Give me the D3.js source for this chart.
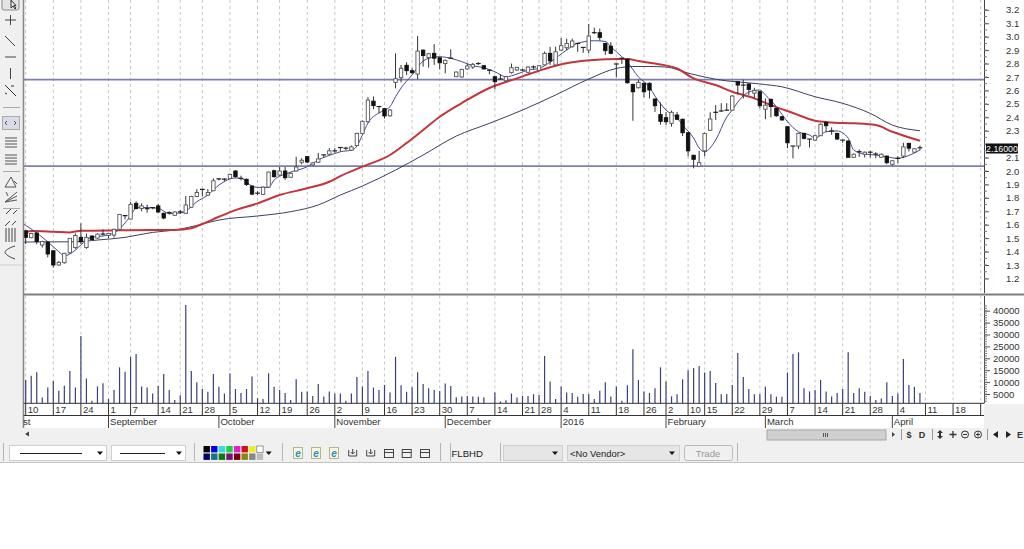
<!DOCTYPE html>
<html><head><meta charset="utf-8">
<script src="https://cdnjs.cloudflare.com/ajax/libs/d3/7.8.5/d3.min.js"></script>
<style>html,body{margin:0;padding:0;background:#fff;overflow:hidden}svg{display:block}text{font-family:"Liberation Sans",Arial,sans-serif}</style>
</head><body><svg id="c" width="1024" height="549"></svg>
<script>
const opens=[1.555,1.503,1.538,1.449,1.471,1.406,1.30,1.317,1.391,1.43,1.506,1.43,1.516,1.50,1.53,1.52,1.523,1.566,1.667,1.642,1.759,1.72,1.72,1.727,1.74,1.685,1.69,1.67,1.695,1.685,1.73,1.81,1.863,1.82,1.853,1.942,1.94,1.945,2.0,1.945,1.938,1.888,1.835,1.826,1.88,2.002,1.97,2.0,1.953,2.0,2.065,2.107,2.045,2.065,2.12,2.125,2.15,2.175,2.17,2.155,2.19,2.28,2.367,2.52,2.48,2.464,2.411,2.66,2.695,2.787,2.747,2.722,2.90,2.846,2.876,2.843,2.80,2.84,2.702,2.70,2.76,2.774,2.80,2.784,2.75,2.702,2.685,2.672,2.732,2.752,2.752,2.735,2.775,2.75,2.79,2.876,2.79,2.90,2.918,2.925,2.95,2.92,2.90,3.03,3.03,2.95,2.93,2.797,2.84,2.831,2.645,2.62,2.653,2.653,2.536,2.42,2.397,2.355,2.417,2.385,2.285,2.117,2.035,2.15,2.303,2.437,2.447,2.453,2.453,2.665,2.64,2.648,2.58,2.59,2.46,2.533,2.466,2.404,2.33,2.186,2.186,2.28,2.238,2.23,2.263,2.363,2.298,2.28,2.23,2.223,2.102,2.144,2.125,2.14,2.126,2.102,2.111,2.05,2.094,2.111,2.206,2.14,2.173];
const closes=[1.506,1.535,1.475,1.475,1.382,1.30,1.32,1.387,1.499,1.52,1.473,1.506,1.49,1.53,1.54,1.535,1.566,1.677,1.67,1.752,1.72,1.74,1.722,1.72,1.695,1.65,1.692,1.695,1.697,1.747,1.81,1.84,1.865,1.84,1.927,1.935,1.93,1.975,1.958,1.947,1.90,1.828,1.837,1.88,1.992,1.958,2.0,1.95,1.983,2.03,2.08,2.067,2.06,2.09,2.122,2.15,2.152,2.177,2.172,2.18,2.28,2.37,2.528,2.487,2.482,2.41,2.454,2.687,2.765,2.747,2.732,2.893,2.86,2.873,2.84,2.806,2.824,2.838,2.737,2.757,2.782,2.794,2.797,2.76,2.743,2.665,2.687,2.702,2.769,2.772,2.754,2.774,2.77,2.784,2.876,2.82,2.888,2.933,2.95,2.968,2.948,2.918,3.005,3.028,2.995,2.896,2.876,2.795,2.838,2.657,2.59,2.66,2.59,2.603,2.486,2.37,2.367,2.437,2.385,2.285,2.15,2.087,2.062,2.28,2.387,2.439,2.449,2.451,2.558,2.64,2.65,2.608,2.60,2.486,2.49,2.48,2.411,2.38,2.21,2.184,2.28,2.243,2.236,2.263,2.348,2.337,2.30,2.238,2.228,2.102,2.125,2.146,2.14,2.142,2.128,2.125,2.062,2.076,2.096,2.18,2.17,2.166,2.175];
const highs=[1.56,1.54,1.545,1.48,1.48,1.41,1.33,1.39,1.50,1.535,1.61,1.535,1.52,1.535,1.565,1.54,1.57,1.68,1.67,1.77,1.775,1.76,1.75,1.73,1.755,1.69,1.70,1.70,1.71,1.813,1.815,1.865,1.865,1.865,1.945,1.945,1.945,1.98,2.005,1.965,1.945,1.89,1.85,1.885,1.995,2.01,2.03,2.03,1.99,2.106,2.095,2.11,2.065,2.135,2.122,2.17,2.17,2.177,2.18,2.19,2.285,2.375,2.55,2.555,2.482,2.47,2.46,2.876,2.79,2.81,2.765,3.005,2.905,2.88,2.945,2.85,2.83,2.906,2.74,2.76,2.80,2.805,2.81,2.79,2.755,2.71,2.72,2.705,2.80,2.775,2.76,2.78,2.785,2.79,2.89,2.925,2.925,2.99,2.985,2.985,2.95,2.92,3.095,3.067,3.06,2.955,2.96,2.80,2.84,2.84,2.65,2.68,2.66,2.66,2.54,2.51,2.44,2.45,2.44,2.39,2.29,2.12,2.15,2.285,2.437,2.49,2.505,2.505,2.565,2.67,2.68,2.65,2.62,2.595,2.54,2.54,2.47,2.41,2.335,2.186,2.285,2.285,2.238,2.27,2.355,2.37,2.325,2.285,2.23,2.23,2.13,2.16,2.145,2.15,2.14,2.13,2.115,2.08,2.11,2.21,2.21,2.17,2.19];
const lows=[1.456,1.50,1.455,1.43,1.357,1.28,1.295,1.31,1.385,1.42,1.456,1.42,1.485,1.495,1.52,1.50,1.505,1.56,1.64,1.64,1.715,1.70,1.69,1.715,1.685,1.64,1.675,1.665,1.68,1.68,1.725,1.805,1.81,1.815,1.85,1.93,1.925,1.94,1.95,1.93,1.888,1.82,1.82,1.82,1.875,1.95,1.965,1.935,1.95,1.995,2.05,2.06,2.04,2.06,2.10,2.12,2.135,2.145,2.155,2.15,2.185,2.275,2.36,2.46,2.43,2.39,2.405,2.615,2.66,2.715,2.725,2.683,2.777,2.77,2.79,2.757,2.727,2.835,2.70,2.695,2.755,2.76,2.79,2.755,2.72,2.608,2.68,2.665,2.725,2.745,2.745,2.73,2.755,2.745,2.785,2.79,2.785,2.895,2.90,2.92,2.888,2.88,2.876,3.02,2.97,2.865,2.87,2.697,2.797,2.65,2.374,2.615,2.55,2.54,2.44,2.345,2.34,2.33,2.38,2.26,2.11,2.02,2.03,2.11,2.30,2.38,2.44,2.45,2.45,2.57,2.54,2.565,2.54,2.466,2.386,2.40,2.405,2.375,2.17,2.094,2.165,2.235,2.175,2.225,2.26,2.29,2.27,2.232,2.21,2.10,2.10,2.105,2.10,2.10,2.095,2.10,2.05,2.04,2.06,2.095,2.145,2.135,2.155];
const volumes=[10900,12700,14100,3500,7700,10500,6400,8500,14700,7700,29400,11500,2200,8200,9500,2900,6700,16200,14300,20600,21800,8200,7700,5200,8400,13400,6700,2500,4500,42400,14700,9900,7100,5900,13400,8000,5200,13600,7100,5400,7100,12400,3200,2900,13700,8000,6700,5400,2500,11200,5900,6000,4200,9200,3900,6100,5200,5200,2200,5200,12100,8100,14700,7700,6700,8800,5600,20600,8700,5900,7800,14100,9200,7400,6700,6300,9400,8400,3600,3900,4200,3900,3800,3600,0,5600,1900,2400,5200,3500,4200,4200,4900,4600,21000,10200,2900,8100,5600,5400,3800,5000,5000,2900,6400,9900,3900,8100,2200,8700,23800,10900,6000,5400,7400,16200,10300,4000,4900,11200,15000,15900,16800,14000,14700,9600,4900,5000,8800,22200,12100,7100,4900,5000,8000,4900,3900,3800,14000,21800,22500,7400,6100,6700,10900,6100,4000,5400,7100,22500,5400,7400,5900,4200,2500,3100,9900,4200,5200,19700,8800,8000,5400];

const dayTickIdx=[0,5,10,15,19,24,28,32,37,42,46,51,56,61,65,70,75,80,85,90,93,97,102,107,112,116,120,123,128,133,138,143,148,153,158,163,168,173];
const dayTickLabels=["10","17","24","1","7","14","21","28","5","12","19","26","2","9","16","23","30","7","14","21","28","4","11","18","26","2","10","15","22","29","7","14","21","28","4","11","18",""];
const monthIdx=[15,35,56,76,97,116,134,157];
const monthLabels=["September","October","November","December","2016","February","March","April"];

const fastIdx=[-1,1,4,6,7,9,10,12,14,16,18,19,20,21,24,26,28,29,31,33,35,38,39,41,42,44,45,47,48,51,53,56,57,59,60,61,62,64,65,66,67,68,70,72,73,75,77,79,81,83,85,87,89,91,93,95,98,100,103,105,106,108,109,111,113,114,116,118,119,121,122,123,125,127,128,129,131,133,134,136,138,140,142,143,145,147,149,150,152,154,156,158,159,162];
const fastVals=[1.62,1.568,1.473,1.399,1.369,1.411,1.449,1.508,1.516,1.538,1.613,1.667,1.724,1.729,1.722,1.683,1.687,1.702,1.771,1.821,1.895,1.948,1.945,1.888,1.878,1.878,1.933,1.977,1.992,2.032,2.082,2.130,2.143,2.156,2.186,2.268,2.357,2.432,2.454,2.479,2.553,2.618,2.715,2.819,2.839,2.851,2.839,2.814,2.784,2.769,2.739,2.702,2.722,2.752,2.764,2.811,2.901,2.951,2.970,2.965,2.925,2.851,2.811,2.700,2.625,2.558,2.454,2.394,2.342,2.245,2.171,2.143,2.231,2.402,2.454,2.513,2.588,2.603,2.566,2.479,2.367,2.292,2.268,2.245,2.292,2.298,2.245,2.156,2.126,2.119,2.106,2.094,2.102,2.156];
const redIdx=[-1,1,5,8,10,17,23,27,30,32,35,38,42,46,51,55,57,61,66,69,72,75,79,84,89,93,96,99,103,107,109,111,114,118,121,125,128,132,135,139,143,146,150,154,157,162];
const redVals=[1.523,1.553,1.548,1.543,1.555,1.558,1.560,1.560,1.573,1.605,1.659,1.709,1.759,1.821,1.871,1.920,1.962,2.032,2.119,2.208,2.305,2.404,2.506,2.618,2.690,2.747,2.784,2.809,2.826,2.834,2.834,2.819,2.800,2.763,2.690,2.640,2.590,2.541,2.491,2.432,2.374,2.362,2.355,2.342,2.292,2.225];
const slowIdx=[-1,9,13,18,23,27,32,35,42,48,53,57,61,67,72,78,84,90,96,102,107,110,113,116,120,125,133,137,143,148,153,157,162];
const slowVals=[1.471,1.473,1.486,1.506,1.543,1.560,1.605,1.635,1.665,1.697,1.747,1.821,1.888,2.007,2.119,2.260,2.355,2.454,2.566,2.685,2.764,2.778,2.778,2.774,2.729,2.683,2.648,2.627,2.553,2.504,2.429,2.342,2.300];

const hLevels=[2.68,2.037];
const priceTicks=d3.range(12,33).map(d=>d/10);
const hiddenPriceLabel=2.2; // covered by the last-price tag in the reference
const priceMinor=d3.range(24,65).map(d=>d/20);
const volTicks=[5000,10000,15000,20000,25000,30000,35000,40000];
const volMinor=d3.range(1000,42001,1000);
const palette1=["#000000","#0000e0","#33dddd","#22cc44","#dd22cc","#cc1122","#eeee22","#ffffff"];
const palette2=["#000066","#117788","#117711","#771177","#770011","#888811","#888888","#bbbbbb"];
const lastPrice="2.16000";

const svg=d3.select("#c");
const x=d3.scaleLinear().domain([0,173]).range([25.7,25.7+173*5.52]);
const y=d3.scaleLinear().domain([1.2,3.2]).range([278.44,9.84]);
const yv=d3.scaleLinear().domain([0,40000]).range([405.9,310.7]);
const L=23.5,R=984,PB=294.5,VB=403.3;
const chrome="#f0f0f0";

// backgrounds
svg.append("rect").attr("x",0).attr("y",0).attr("width",23).attr("height",463).attr("fill",chrome);
svg.append("rect").attr("x",0).attr("y",428).attr("width",1024).attr("height",35).attr("fill",chrome);
svg.append("rect").attr("x",R).attr("y",404).attr("width",40).attr("height",24).attr("fill",chrome);
svg.append("line").attr("x1",0).attr("x2",1024).attr("y1",462.5).attr("y2",462.5).attr("stroke","#c4c4c4");
svg.append("line").attr("x1",0).attr("x2",22).attr("y1",265).attr("y2",265).attr("stroke","#d0d0d0");

// gridlines
const grid=svg.append("g").attr("stroke","#c6c6c6").attr("stroke-dasharray","3,3");
grid.selectAll("line.a").data(dayTickIdx).join("line").attr("class","a").attr("x1",d=>x(d)).attr("x2",d=>x(d)).attr("y1",0).attr("y2",PB-1);
grid.selectAll("line.b").data(dayTickIdx).join("line").attr("class","b").attr("x1",d=>x(d)).attr("x2",d=>x(d)).attr("y1",PB+1).attr("y2",VB);

// horizontal level lines
svg.selectAll("line.lvl").data(hLevels).join("line").attr("class","lvl").attr("x1",L).attr("x2",R).attr("y1",d=>y(d)).attr("y2",d=>y(d)).attr("stroke","#7a80ad").attr("stroke-width",1.7);

// MA lines below candles
const clipId="pc";
svg.append("clipPath").attr("id",clipId).append("rect").attr("x",L).attr("y",0).attr("width",R-L).attr("height",PB);
const plot=svg.append("g").attr("clip-path",`url(#${clipId})`);
const lineFn=d3.line().x(d=>x(d[0])).y(d=>y(d[1])).curve(d3.curveMonotoneX);
const drawMA=(idx,vals,col,w)=>plot.append("path").attr("d",lineFn(idx.map((d,i)=>[d,vals[i]]))).attr("fill","none").attr("stroke",col).attr("stroke-width",w);
drawMA(slowIdx,slowVals,"#3a4060",1);
drawMA(redIdx,redVals,"#c4343c",2);
drawMA(fastIdx,fastVals,"#434e8c",1);

// candles
const candles=opens.map((o,i)=>({i,o,c:closes[i],h:highs[i],l:lows[i]}));
const cg=plot.selectAll("g.candle").data(candles).join("g").attr("class","candle");
cg.append("line").attr("x1",d=>x(d.i)).attr("x2",d=>x(d.i)).attr("y1",d=>y(d.h)).attr("y2",d=>y(d.l)).attr("stroke","#333").attr("stroke-width",1);
cg.filter(d=>Math.abs(y(d.o)-y(d.c))>=1.5).append("rect")
  .attr("x",d=>x(d.i)-1.7).attr("width",3.4)
  .attr("y",d=>y(Math.max(d.o,d.c))).attr("height",d=>Math.abs(y(d.o)-y(d.c)))
  .attr("fill",d=>d.c>=d.o?"#fff":"#111").attr("stroke",d=>d.c>=d.o?"#555":"#111").attr("stroke-width",0.9);
cg.filter(d=>Math.abs(y(d.o)-y(d.c))<1.5).append("line")
  .attr("x1",d=>x(d.i)-2.4).attr("x2",d=>x(d.i)+2.4).attr("y1",d=>y(d.o)).attr("y2",d=>y(d.o))
  .attr("stroke","#222").attr("stroke-width",1.2);

// volume
svg.selectAll("line.vol").data(volumes.map((v,i)=>({v,i})).filter(d=>d.v>0)).join("line").attr("class","vol")
  .attr("x1",d=>x(d.i)).attr("x2",d=>x(d.i)).attr("y1",VB).attr("y2",d=>yv(d.v))
  .attr("stroke","#3a4078").attr("stroke-width",1.2);

// frame lines
svg.append("line").attr("x1",L).attr("x2",1024).attr("y1",PB).attr("y2",PB).attr("stroke","#7e7e7e").attr("stroke-width",1.8);
svg.append("line").attr("x1",L).attr("x2",L).attr("y1",0).attr("y2",428).attr("stroke","#8a8a8a").attr("stroke-width",1.6);
svg.append("line").attr("x1",L).attr("x2",R).attr("y1",VB).attr("y2",VB).attr("stroke","#333");
svg.append("line").attr("x1",L).attr("x2",R).attr("y1",415.5).attr("y2",415.5).attr("stroke","#333");

// date axis
const dg=svg.append("g").attr("font-size",9.6).attr("fill","#333");
dayTickIdx.forEach((d,i)=>{
  svg.append("line").attr("x1",x(d)).attr("x2",x(d)).attr("y1",VB).attr("y2",415.5).attr("stroke","#333");
  dg.append("text").attr("x",x(d)+2).attr("y",413).text(dayTickLabels[i]);
});
monthIdx.forEach((d,i)=>{
  svg.append("line").attr("x1",x(d)).attr("x2",x(d)).attr("y1",415.5).attr("y2",428).attr("stroke","#444");
  dg.append("text").attr("x",x(d)+1.5).attr("y",425).text(monthLabels[i]);
});
dg.append("text").attr("x",23).attr("y",425).text("st");

// price axis
const pa=svg.append("g").attr("transform",`translate(${R},0)`).call(d3.axisRight(y).tickValues(priceTicks).tickFormat(d=>d===hiddenPriceLabel?"":d3.format(".1f")(d)).tickSize(5).tickPadding(17));
pa.selectAll("text").attr("font-size",9.6).attr("font-family","Liberation Sans").attr("fill","#333");
pa.selectAll("line").attr("stroke","#555");pa.select(".domain").attr("stroke","#444").attr("d","M0.5,0V293");
svg.append("g").attr("stroke","#777").selectAll("line").data(priceMinor).join("line").attr("x1",R).attr("x2",R+3).attr("y1",d=>y(d)).attr("y2",d=>y(d));

// volume axis
const va=svg.append("g").attr("transform",`translate(${R},0)`).call(d3.axisRight(yv).tickValues(volTicks).tickFormat(d3.format("d")).tickSize(6).tickPadding(3));
va.selectAll("text").attr("font-size",9.6).attr("font-family","Liberation Sans").attr("fill","#333");
va.selectAll("line").attr("stroke","#555");va.select(".domain").attr("stroke","#444").attr("d",`M0.5,296V${VB}`);
svg.append("g").attr("stroke","#777").selectAll("line").data(volMinor.filter(d=>yv(d)<VB-1)).join("line").attr("x1",R).attr("x2",R+3).attr("y1",d=>yv(d)).attr("y2",d=>yv(d));

// last price tag
svg.append("rect").attr("x",986).attr("y",143.5).attr("width",32).attr("height",10).attr("fill","#111");
svg.append("text").attr("x",1002).attr("y",151.6).attr("text-anchor","middle").attr("font-size",8.8).attr("fill","#fff").text(lastPrice);

// left toolbar
const tb=svg.append("g").attr("stroke","#444").attr("fill","none").attr("stroke-width",1);
const P=(d,c)=>tb.append("path").attr("d",d).attr("stroke",c||"#444");
tb.append("rect").attr("x",2).attr("y",-3).attr("width",17).attr("height",13).attr("rx",2).attr("stroke","#888").attr("fill","#e4e4e4");
P("M11,0V8L13,6L15,9L16,8L14,5.5H16Z","#333");
P("M5,20H16M10.5,15V25");P("M5,36L15,46");P("M5,57H16");P("M10.5,68V79");
P("M5,85L16,96M11,86L14,86M5,93L7,94","#333");
P("M3,107.5H20","#aaa");
tb.append("rect").attr("x",2.5).attr("y",116.5).attr("width",17).attr("height",13).attr("fill","#d9dbe8").attr("stroke","#aaa");
P("M7,121L5,123L7,125M14,121L16,123L14,125","#555");
P("M5,138H17M5,141H17M5,144H17M5,147H17","#555");P("M5,155H17M5,158H17M5,161H17M5,164H17","#555");
P("M3,171.5H20","#aaa");
P("M5,187H16L11,177ZM14,181L17,184","#555");
P("M5,202L17,192M5,202L17,196M5,202L17,200M6,192L8,196","#555");
P("M3,208.5H20","#aaa");
P("M6,214L11,209M13,214L17,210M5,226L10,221M12,225L16,221","#444");
P("M6,228V242M9,228V242M12,228V242M15,228V242","#444");
P("M15,246C8,248 5,251 5,252C5,254 9,257 15,259","#444");

// scroll row
const sr=svg.append("g");
sr.append("path").attr("d","M25,434L29,431.5V436.5Z").attr("fill","#444");
sr.append("rect").attr("x",767).attr("y",430).attr("width",119).attr("height",10).attr("fill","#d0d0d0").attr("stroke","#a5a5a5");
sr.append("path").attr("d","M823.5,433V437M825.5,433V437M827.5,433V437").attr("stroke","#555");
sr.append("path").attr("d","M892,432L895,434.5L892,437Z").attr("fill","#444");
sr.append("path").attr("d","M901.5,429V440M932.5,429V440M987.5,429V440").attr("stroke","#999");
const btxt=(s,px)=>sr.append("text").attr("x",px).attr("y",438).attr("text-anchor","middle").attr("font-size",9).attr("font-weight","bold").attr("fill","#333").text(s);
btxt("$",909);btxt("D",922);btxt("E",1020);
sr.append("path").attr("d","M940,430L943,433H941V436H943L940,439L937,436H939V433H937Z").attr("fill","#333");
sr.append("path").attr("d","M953,431V438M949.5,434.5H956.5").attr("stroke","#333").attr("stroke-width",1.3);
sr.append("circle").attr("cx",965).attr("cy",434.5).attr("r",3.5).attr("fill","none").attr("stroke","#333");
sr.append("path").attr("d","M963,434.5H967").attr("stroke","#333");
sr.append("circle").attr("cx",978).attr("cy",434.5).attr("r",3.5).attr("fill","none").attr("stroke","#333");
sr.append("path").attr("d","M976,434.5H980M978,432.5V436.5").attr("stroke","#333");
sr.append("path").attr("d","M998,431V438L993,434.5Z").attr("fill","#222");
sr.append("path").attr("d","M1006,431V438L1011,434.5Z").attr("fill","#222");

// bottom toolbar
const bt=svg.append("g");
const box=(x0,w,f)=>bt.append("rect").attr("x",x0+.5).attr("y",445.5).attr("width",w).attr("height",15).attr("fill",f||"#fff").attr("stroke","#cfcfcf");
const arrow=(px)=>bt.append("path").attr("d",`M${px-3},451.5H${px+3}L${px},455Z`).attr("fill","#111");
box(9,97);box(111,74);
bt.append("line").attr("x1",20).attr("x2",82).attr("y1",453.5).attr("y2",453.5).attr("stroke","#222");
bt.append("line").attr("x1",120).attr("x2",165).attr("y1",453.5).attr("y2",453.5).attr("stroke","#222");
arrow(100);arrow(179);
bt.append("path").attr("d","M3.5,443V461M194.5,443V461M282.5,443V461M440.5,443V461M450.5,443V461M500.5,443V461M737.5,443V461").attr("stroke","#b5b5b5");
[palette1,palette2].forEach((p,r)=>p.forEach((c,i)=>{
  bt.append("rect").attr("x",203.5+i*7.6).attr("y",446+r*7.5).attr("width",6.4).attr("height",6.4).attr("fill",c).attr("stroke",c==="#ffffff"?"#999":"none");
}));
arrow(268.7);
[298,316,334].forEach(px=>{
  bt.append("rect").attr("x",px-4.5).attr("y",447.5).attr("width",9).attr("height",11).attr("fill","#f6f6e0").attr("stroke","#b5b58a");
  bt.append("text").attr("x",px).attr("y",456.5).attr("text-anchor","middle").attr("font-size",10).attr("font-style","italic").attr("font-weight","bold").attr("fill","#2a8fc0").text("e");
});
[352.7,370.7].forEach(px=>bt.append("path").attr("d",`M${px-4},450V456H${px+4}V450M${px},449V454M${px-2},452L${px},454L${px+2},452`).attr("fill","none").attr("stroke","#444"));
[389,406.7,425].forEach(px=>{
  bt.append("rect").attr("x",px-4.5).attr("y",449.5).attr("width",9).attr("height",8).attr("fill","none").attr("stroke","#444");
  bt.append("line").attr("x1",px-4.5).attr("x2",px+4.5).attr("y1",452.5).attr("y2",452.5).attr("stroke","#444");
});
bt.append("text").attr("x",451.5).attr("y",456.5).attr("font-size",9.6).attr("fill","#222").text("FLBHD");
box(503,59,"#e6e6e6");arrow(555);
box(567,112,"#e6e6e6");arrow(672);
bt.append("text").attr("x",570).attr("y",456.5).attr("font-size",9.4).attr("fill","#222").text("<No Vendor>");
bt.append("rect").attr("x",684.5).attr("y",445.5).attr("width",48).attr("height",15).attr("rx",2).attr("fill","#f0f0f0").attr("stroke","#bbb");
bt.append("text").attr("x",708).attr("y",456.5).attr("text-anchor","middle").attr("font-size",9.6).attr("fill","#999").text("Trade");
</script></body></html>
